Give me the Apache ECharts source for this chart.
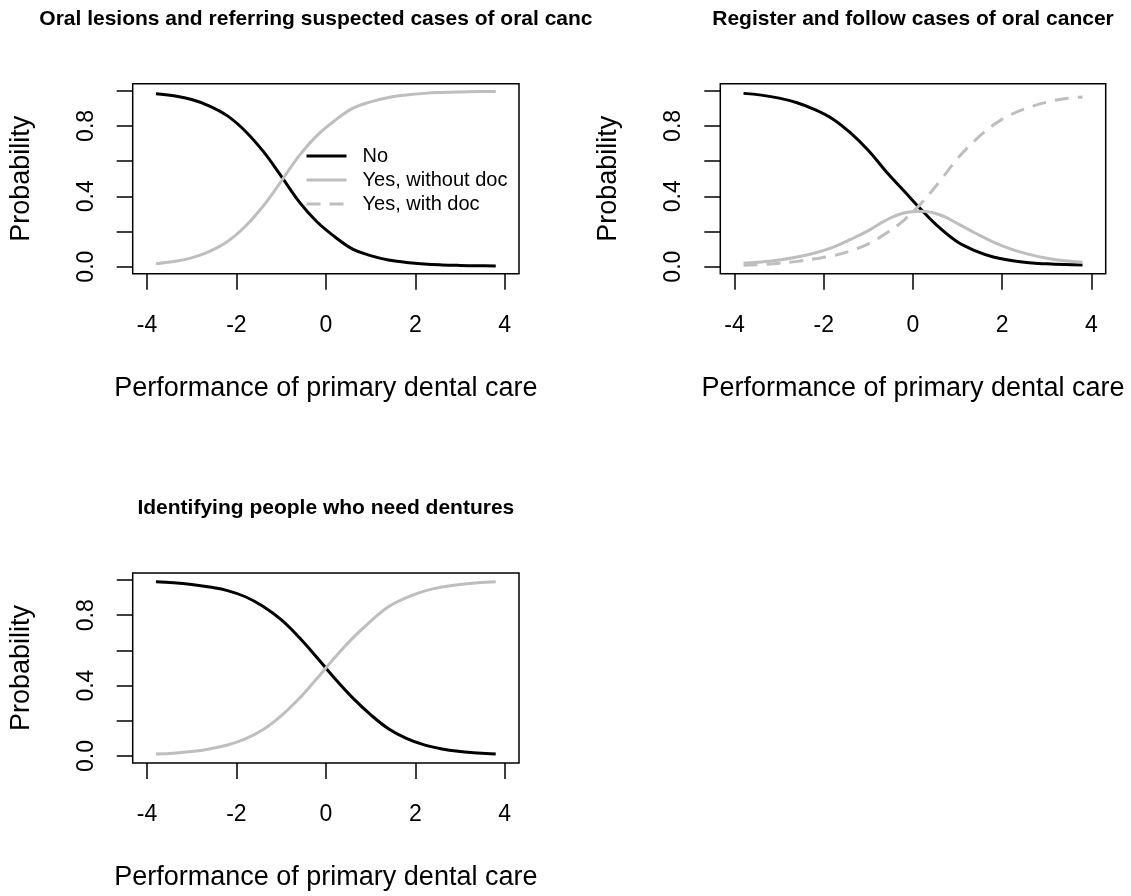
<!DOCTYPE html>
<html lang="en">
<head>
<meta charset="UTF-8">
<title>Probability by performance of primary dental care</title>
<script src="https://cdn.jsdelivr.net/npm/echarts@6.0.0/dist/echarts.min.js"></script>
<style>
  html, body { margin: 0; padding: 0; background: #fff; }
  #chart { width: 1131px; height: 896px; }
</style>
</head>
<body>
<div id="chart"></div>
<script>
// x positions of the predicted curves
const xValues = [-3.8, -3.4, -3.0, -2.6, -2.2, -1.8, -1.4, -1.0, -0.6, -0.2,
                 0.2, 0.6, 1.0, 1.4, 1.8, 2.2, 2.6, 3.0, 3.4, 3.8];

// panel 1: oral lesions
const lesionsNo =        [0.983, 0.971, 0.95, 0.913, 0.857, 0.77, 0.655, 0.515, 0.37, 0.255,
                          0.17, 0.10, 0.063, 0.038, 0.024, 0.015, 0.010, 0.007, 0.005, 0.004];
const lesionsYesNoDoc =  [0.017, 0.029, 0.05, 0.087, 0.143, 0.23, 0.345, 0.485, 0.63, 0.745,
                          0.83, 0.90, 0.937, 0.962, 0.976, 0.985, 0.99, 0.993, 0.995, 0.996];

// panel 2: register and follow
const registerNo =       [0.985, 0.975, 0.958, 0.932, 0.893, 0.84, 0.76, 0.66, 0.54, 0.43,
                          0.32, 0.22, 0.14, 0.09, 0.055, 0.035, 0.022, 0.016, 0.012, 0.01];
const registerYesNoDoc = [0.02, 0.027, 0.038, 0.055, 0.078, 0.11, 0.155, 0.205, 0.265, 0.305,
                          0.315, 0.295, 0.245, 0.19, 0.14, 0.10, 0.07, 0.048, 0.033, 0.025];
const registerYesDoc =   [0.008, 0.012, 0.02, 0.03, 0.045, 0.062, 0.09, 0.13, 0.19, 0.265,
                          0.365, 0.485, 0.615, 0.72, 0.805, 0.865, 0.905, 0.935, 0.955, 0.965];

// panel 3: dentures
const denturesNo =       [0.99, 0.985, 0.975, 0.96, 0.94, 0.905, 0.85, 0.775, 0.675, 0.56,
                          0.44, 0.33, 0.235, 0.155, 0.10, 0.063, 0.04, 0.026, 0.017, 0.011];
const denturesYesNoDoc = [0.011, 0.016, 0.025, 0.04, 0.062, 0.097, 0.15, 0.228, 0.325, 0.44,
                          0.56, 0.67, 0.765, 0.848, 0.90, 0.937, 0.96, 0.975, 0.984, 0.99];

const xTicks = [-4, -2, 0, 2, 4];
const yTicks = [0, 0.2, 0.4, 0.6, 0.8, 1.0];
const yTickLabels = [0, 0.4, 0.8];

const panelTitles = [
  'Oral lesions and referring suspected cases of oral cancer',
  'Register and follow cases of oral cancer',
  'Identifying people who need dentures'
];
const legendNames = ['No', 'Yes, without doc', 'Yes, with doc'];

const FONT = '"Liberation Sans", Arial, sans-serif';
const BLACK = '#000000';
const GRAY = '#BEBEBE';

// plot boxes, in pixels
const boxes = [
  { left: 132.7, top: 83.7, width: 386.3, height: 190 },
  { left: 720.3, top: 83.7, width: 385.4, height: 190 },
  { left: 132.7, top: 573,  width: 386.3, height: 190 }
];

function pairs(ys) {
  return xValues.map((x, i) => [x, ys[i]]);
}

function curve(name, ys, panel, color, dashed) {
  return {
    name: name,
    type: 'line',
    xAxisIndex: panel,
    yAxisIndex: panel,
    data: pairs(ys),
    symbol: 'none',
    showSymbol: false,
    smooth: 0.4,
    lineStyle: { color: color, width: 3, type: dashed ? [14, 9] : 'solid', cap: 'butt' },
    itemStyle: { color: color },
    emphasis: { disabled: true }
  };
}

const chart = echarts.init(document.getElementById('chart'));

const grids = boxes.map(b => ({
  left: b.left, top: b.top, width: b.width, height: b.height,
  show: true, borderColor: BLACK, borderWidth: 1.5, backgroundColor: 'transparent'
}));

const xAxes = boxes.map((b, i) => ({
  type: 'value', gridIndex: i, min: -4.32, max: 4.32,
  name: 'Performance of primary dental care',
  nameLocation: 'middle', nameGap: 101,
  nameTextStyle: { fontSize: 27, color: BLACK, fontFamily: FONT },
  axisLine: { show: false, onZero: false },
  axisTick: { show: true, length: 16, customValues: xTicks, lineStyle: { color: BLACK, width: 1.5 } },
  axisLabel: { customValues: xTicks, margin: 40, fontSize: 23, color: BLACK, fontFamily: FONT,
               formatter: v => String(v) },
  splitLine: { show: false }
}));

const yAxes = boxes.map((b, i) => ({
  type: 'value', gridIndex: i, min: -0.04, max: 1.04,
  name: 'Probability',
  nameLocation: 'middle', nameGap: 98,
  nameTextStyle: { fontSize: 27, color: BLACK, fontFamily: FONT },
  axisLine: { show: false, onZero: false },
  axisTick: { show: true, length: 16, customValues: yTicks, lineStyle: { color: BLACK, width: 1.5 } },
  axisLabel: { customValues: yTickLabels, rotate: 90, margin: 35, fontSize: 23, color: BLACK,
               fontFamily: FONT, formatter: v => v.toFixed(1) },
  splitLine: { show: false }
}));

// titles: centred over each box; the first one is cut at its figure edge like in R
const titleFont = 'bold 21px ' + FONT;
const ctx = document.createElement('canvas').getContext('2d');
ctx.font = titleFont;
const fullW = ctx.measureText(panelTitles[0]).width;
const t1Left = boxes[0].left + boxes[0].width / 2 - fullW / 2;
const clipEdge = 600;

const graphics = [
  { type: 'text', x: t1Left, y: 19,
    style: { text: panelTitles[0], font: titleFont, fill: BLACK, align: 'left', verticalAlign: 'middle',
             width: clipEdge - t1Left, overflow: 'truncate', ellipsis: '' } },
  { type: 'text', x: boxes[1].left + boxes[1].width / 2, y: 19,
    style: { text: panelTitles[1], font: titleFont, fill: BLACK, align: 'center', verticalAlign: 'middle' } },
  { type: 'text', x: boxes[2].left + boxes[2].width / 2, y: 508,
    style: { text: panelTitles[2], font: titleFont, fill: BLACK, align: 'center', verticalAlign: 'middle' } }
];

chart.setOption({
  animation: false,
  backgroundColor: '#fff',
  grid: grids,
  xAxis: xAxes,
  yAxis: yAxes,
  graphic: graphics,
  legend: {
    orient: 'vertical', left: 300, top: 141,
    itemWidth: 40, itemHeight: 14, itemGap: 4,
    selectedMode: false,
    data: legendNames,
    itemStyle: { opacity: 0, borderWidth: 0 },
    lineStyle: { width: 3 },
    textStyle: { fontSize: 20, color: BLACK, fontFamily: FONT, padding: [0, 0, 0, 11] }
  },
  series: [
    curve('No', lesionsNo, 0, BLACK, false),
    curve('Yes, without doc', lesionsYesNoDoc, 0, GRAY, false),
    curve('No', registerNo, 1, BLACK, false),
    curve('Yes, without doc', registerYesNoDoc, 1, GRAY, false),
    curve('Yes, with doc', registerYesDoc, 1, GRAY, true),
    curve('No', denturesNo, 2, BLACK, false),
    curve('Yes, without doc', denturesYesNoDoc, 2, GRAY, false)
  ]
});
</script>
</body>
</html>
